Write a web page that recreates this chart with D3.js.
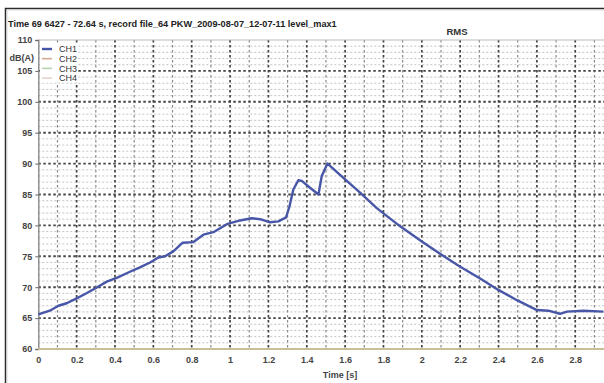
<!DOCTYPE html>
<html>
<head>
<meta charset="utf-8">
<script src="https://cdn.jsdelivr.net/npm/d3@7"></script>
<style>
  html, body { margin: 0; padding: 0; background: #fff; }
  svg { display: block; font-family: "Liberation Sans", Arial, sans-serif; }
</style>
</head>
<body>
<svg id="chart" width="604" height="383"></svg>
<script>
// RMS level of channel 1 over the recording window
const timeS = [0, 0.06, 0.105, 0.148, 0.2, 0.244, 0.305, 0.357, 0.409, 0.478,
  0.53, 0.583, 0.626, 0.661, 0.704, 0.753, 0.809, 0.861, 0.913, 0.983,
  1.052, 1.113, 1.157, 1.209, 1.252, 1.292, 1.31, 1.33, 1.356, 1.374,
  1.417, 1.461, 1.478, 1.508, 1.591, 1.678, 1.765, 1.887, 2.0, 2.095,
  2.196, 2.304, 2.397, 2.496, 2.6, 2.66, 2.72, 2.757, 2.843, 2.947];
const ch1 = [65.6, 66.2, 67.0, 67.4, 68.2, 68.9, 69.95, 70.9, 71.5, 72.5,
  73.2, 74.0, 74.8, 75.0, 75.8, 77.2, 77.3, 78.5, 78.9, 80.2,
  80.8, 81.15, 81.0, 80.5, 80.65, 81.3, 83.1, 85.8, 87.3, 87.2,
  86.1, 85.0, 88.0, 90.0, 87.7, 85.3, 82.8, 79.85, 77.4, 75.4,
  73.4, 71.4, 69.6, 67.9, 66.3, 66.2, 65.7, 66.05, 66.2, 66.05];

// Channels 2-4 sit on the floor of the scale for the whole window
const floorTime = [0, 2.95];
const ch2 = [60, 60];
const ch3 = [60, 60];
const ch4 = [60, 60];

const channels = ["CH1", "CH2", "CH3", "CH4"];
const xTicks = [0, 0.2, 0.4, 0.6, 0.8, 1, 1.2, 1.4, 1.6, 1.8, 2, 2.2, 2.4, 2.6, 2.8];
const yTicks = [60, 65, 70, 75, 80, 85, 90, 95, 100, 105, 110];

const titleText = "Time 69 6427 - 72.64 s, record file_64 PKW_2009-08-07_12-07-11 level_max1";
const panelTitle = "RMS";
const yUnit = "dB(A)";
const xTitle = "Time [s]";

const colors = { CH1: "#4856a8", CH2: "#d6a893", CH3: "#b9d3ae", CH4: "#cbb98e" };

const svg = d3.select("#chart");
const plot = { left: 38.3, right: 604, top: 40, bottom: 349 };

const x = d3.scaleLinear().domain([0, 2.95]).range([plot.left, plot.right]);
const y = d3.scaleLinear().domain([60, 110]).range([plot.bottom, plot.top]);

// Outer frame
svg.append("path")
  .attr("d", "M5.5,383 V8.5 H604")
  .attr("fill", "none").attr("stroke", "#2a2a2a").attr("stroke-width", 1.5);
svg.append("path")
  .attr("d", "M7,383 V10 H604")
  .attr("fill", "none").attr("stroke", "#cfcfcf").attr("stroke-width", 0.8);

// Title
const title = svg.append("text")
  .attr("x", 8).attr("y", 27)
  .attr("font-size", 10).attr("font-weight", "bold").attr("fill", "#222")
  .text(titleText);
const tl = title.node().getComputedTextLength();
title.attr("font-size", 10 * 329 / tl);

svg.append("text")
  .attr("x", 457).attr("y", 35)
  .attr("text-anchor", "middle")
  .attr("font-size", 9.5).attr("font-weight", "bold").attr("fill", "#333")
  .text(panelTitle);

const grid = svg.append("g");

// Minor horizontal grid every 1 dB
grid.selectAll("line.hmin")
  .data(d3.range(61, 110).filter(v => v % 5 !== 0))
  .join("line")
  .attr("x1", plot.left).attr("x2", plot.right)
  .attr("y1", d => y(d)).attr("y2", d => y(d))
  .attr("stroke", "#bdbdbd").attr("stroke-width", 0.9)
  .attr("stroke-dasharray", "2,2");

// Vertical grid every 0.1 s, stronger every 0.2 s
grid.selectAll("line.v")
  .data(d3.range(1, 30).map(i => i / 10))
  .join("line")
  .attr("x1", d => x(d)).attr("x2", d => x(d))
  .attr("y1", plot.top).attr("y2", plot.bottom)
  .attr("stroke", (d, i) => (i % 2 === 1 ? "#444" : "#8a8a8a"))
  .attr("stroke-width", (d, i) => (i % 2 === 1 ? 1.7 : 1.2))
  .attr("stroke-dasharray", "2.5,2.5");

// Major horizontal grid every 5 dB
grid.selectAll("line.hmaj")
  .data(yTicks.filter(v => v > 60 && v < 110))
  .join("line")
  .attr("x1", plot.left).attr("x2", plot.right)
  .attr("y1", d => y(d)).attr("y2", d => y(d))
  .attr("stroke", "#444").attr("stroke-width", 1.9)
  .attr("stroke-dasharray", "2.5,2.5");

// Top edge of plot
grid.append("line")
  .attr("x1", plot.left).attr("x2", plot.right)
  .attr("y1", plot.top).attr("y2", plot.top)
  .attr("stroke", "#bbb").attr("stroke-width", 1);

// Y axis
const yAxis = svg.append("g")
  .attr("transform", `translate(${plot.left},0)`)
  .call(d3.axisLeft(y).tickValues(yTicks).tickSize(3).tickFormat(d3.format("d")));
yAxis.select(".domain").attr("stroke", "#888").attr("stroke-width", 1.4);
yAxis.selectAll(".tick line").attr("stroke", "#666");
yAxis.selectAll(".tick text")
  .attr("font-size", 9).attr("font-weight", "bold").attr("fill", "#444")
  .attr("font-family", "Liberation Sans, Arial, sans-serif");

svg.append("text")
  .attr("x", 34).attr("y", 61)
  .attr("text-anchor", "end")
  .attr("font-size", 9).attr("font-weight", "bold").attr("fill", "#444")
  .text(yUnit);

// X axis
const xAxis = svg.append("g")
  .attr("transform", `translate(0,${plot.bottom})`)
  .call(d3.axisBottom(x).tickValues(xTicks).tickSize(0).tickPadding(8).tickFormat(d3.format("")));
xAxis.select(".domain").remove();
xAxis.selectAll(".tick text")
  .attr("font-size", 9).attr("font-weight", "bold").attr("fill", "#444")
  .attr("font-family", "Liberation Sans, Arial, sans-serif");

svg.append("text")
  .attr("x", 340).attr("y", 378)
  .attr("text-anchor", "middle")
  .attr("font-size", 9).attr("font-weight", "bold").attr("fill", "#444")
  .text(xTitle);

// Series
const line = d3.line().x(d => x(d[0])).y(d => y(d[1]));
const floorSeries = [
  { name: "CH2", values: d3.zip(floorTime, ch2) },
  { name: "CH3", values: d3.zip(floorTime, ch3) },
  { name: "CH4", values: d3.zip(floorTime, ch4) }
];
svg.selectAll("path.floor")
  .data(floorSeries)
  .join("path")
  .attr("d", d => line(d.values))
  .attr("fill", "none")
  .attr("stroke", d => colors[d.name])
  .attr("stroke-width", 1.6);

svg.append("path")
  .attr("d", line(d3.zip(timeS, ch1)))
  .attr("fill", "none")
  .attr("stroke", colors.CH1)
  .attr("stroke-width", 2.4)
  .attr("stroke-linejoin", "round");

// Legend
const legend = svg.append("g").attr("transform", "translate(42,49)");
const item = legend.selectAll("g")
  .data(channels)
  .join("g")
  .attr("transform", (d, i) => `translate(0,${i * 9.7})`);
item.append("rect")
  .attr("x", -2).attr("y", -4.5).attr("width", 38).attr("height", 9)
  .attr("fill", "#fff");
item.append("line")
  .attr("x1", 0).attr("x2", 10).attr("y1", 0).attr("y2", 0)
  .attr("stroke", d => (d === "CH4" ? "#e6d2cc" : colors[d]))
  .attr("stroke-width", d => (d === "CH1" ? 2.4 : 1.6));
item.append("text")
  .attr("x", 17).attr("y", 3.3)
  .attr("font-size", 9).attr("fill", "#333")
  .text(d => d);
</script>
</body>
</html>
